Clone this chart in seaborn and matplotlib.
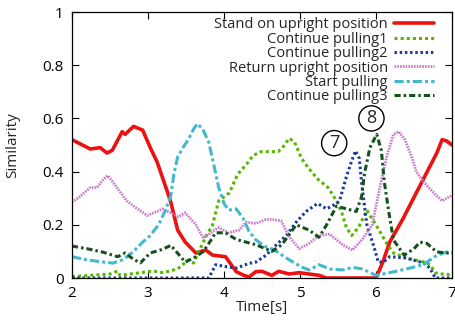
import numpy as np
import pandas as pd
import seaborn as sns
import matplotlib
matplotlib.use("Agg")
import matplotlib.pyplot as plt

# Similarity of each motion phase over time
stand_t = [2.0, 2.24, 2.37, 2.46, 2.53, 2.66, 2.70, 2.81, 2.93, 3.03, 3.12, 3.26, 3.30, 3.39, 3.49,
           3.63, 3.76, 3.85, 4.02, 4.16, 4.26, 4.33, 4.42, 4.5, 4.63, 4.72, 4.86, 4.99, 5.25, 5.35,
           5.6, 6.0, 6.09, 6.18, 6.35, 6.53, 6.71, 6.80, 6.87, 6.93, 7.0]
stand_v = [0.52, 0.485, 0.49, 0.47, 0.48, 0.55, 0.54, 0.57, 0.556, 0.49, 0.436, 0.32, 0.285, 0.18, 0.135,
           0.094, 0.105, 0.086, 0.08, 0.024, 0.01, 0.004, 0.024, 0.025, 0.01, 0.025, 0.015, 0.02, 0.01, 0.0,
           0.0, 0.0, 0.06, 0.135, 0.22, 0.32, 0.42, 0.47, 0.52, 0.515, 0.50]

pull1_t = [2.0, 2.24, 2.5, 2.6, 2.63, 2.9, 3.07, 3.2, 3.39, 3.53, 3.6, 3.76, 3.85, 3.93, 4.07, 4.18,
           4.29, 4.38, 4.49, 4.71, 4.77, 4.86, 4.93, 5.02, 5.12, 5.24, 5.37, 5.48, 5.55, 5.61, 5.68,
           5.77, 5.88, 5.92, 6.0, 6.14, 6.23, 6.4, 6.63, 6.71, 6.78, 6.84, 6.93, 7.0]
pull1_v = [0.005, 0.01, 0.015, 0.026, 0.01, 0.02, 0.026, 0.02, 0.034, 0.068, 0.056, 0.155, 0.2, 0.29, 0.32, 0.39,
           0.425, 0.46, 0.475, 0.475, 0.49, 0.525, 0.51, 0.45, 0.41, 0.37, 0.34, 0.29, 0.245, 0.19, 0.16,
           0.19, 0.255, 0.235, 0.2, 0.13, 0.094, 0.075, 0.06, 0.05, 0.02, 0.015, 0.015, 0.008]

pull2_t = [2.0, 3.8, 3.89, 4.02, 4.16, 4.33, 4.42, 4.55, 4.69, 4.82, 4.95, 5.08, 5.23, 5.35, 5.48,
           5.52, 5.61, 5.68, 5.73, 5.78, 5.81, 5.84, 5.88, 5.97, 6.03, 6.10, 6.18, 6.40, 6.63, 6.71,
           6.78, 7.0]
pull2_v = [0.0, 0.0, 0.05, 0.043, 0.037, 0.055, 0.06, 0.085, 0.125, 0.16, 0.21, 0.25, 0.28, 0.26, 0.28,
           0.29, 0.38, 0.44, 0.478, 0.45, 0.36, 0.29, 0.2, 0.12, 0.06, 0.06, 0.08, 0.075, 0.056, 0.037,
           0.0, 0.0]

ret_t = [2.0, 2.1, 2.24, 2.33, 2.41, 2.47, 2.54, 2.63, 2.72, 2.86, 2.99, 3.12, 3.19, 3.3, 3.4, 3.49,
         3.63, 3.73, 3.85, 3.93, 4.06, 4.2, 4.29, 4.42, 4.55, 4.63, 4.75, 4.86, 4.99, 5.12, 5.25, 5.39,
         5.56, 5.69, 5.82, 5.95, 6.05, 6.14, 6.23, 6.3, 6.38, 6.47, 6.53, 6.63, 6.76, 6.87, 6.96, 7.0]
ret_v = [0.285, 0.305, 0.34, 0.34, 0.37, 0.385, 0.36, 0.325, 0.29, 0.26, 0.235, 0.25, 0.26, 0.245, 0.23, 0.245,
         0.2, 0.15, 0.175, 0.19, 0.17, 0.18, 0.21, 0.205, 0.22, 0.22, 0.215, 0.155, 0.11, 0.13, 0.16, 0.165,
         0.125, 0.105, 0.145, 0.2, 0.34, 0.455, 0.54, 0.55, 0.52, 0.455, 0.4, 0.36, 0.32, 0.29, 0.305, 0.31]

start_t = [2.0, 2.2, 2.41, 2.54, 2.68, 2.81, 2.93, 3.03, 3.14, 3.23, 3.30, 3.34, 3.39, 3.46, 3.53,
           3.60, 3.65, 3.72, 3.80, 3.87, 3.93, 4.0, 4.06, 4.16, 4.25, 4.33, 4.42, 4.53, 4.69, 4.86,
           5.03, 5.12, 5.25, 5.39, 5.56, 5.69, 5.82, 6.0, 6.18, 6.4, 6.62, 6.8, 6.93, 7.0]
start_v = [0.08, 0.068, 0.06, 0.056, 0.07, 0.1, 0.135, 0.16, 0.2, 0.255, 0.31, 0.39, 0.455, 0.49, 0.52,
           0.56, 0.58, 0.56, 0.51, 0.42, 0.34, 0.28, 0.255, 0.26, 0.225, 0.175, 0.143, 0.12, 0.1, 0.068,
           0.04, 0.03, 0.05, 0.034, 0.03, 0.04, 0.034, 0.01, 0.02, 0.034, 0.05, 0.085, 0.098, 0.095]

pull3_t = [2.0, 2.2, 2.41, 2.6, 2.7, 2.81, 2.9, 3.03, 3.16, 3.26, 3.3, 3.49, 3.6, 3.73, 3.8, 3.89,
           4.02, 4.16, 4.42, 4.63, 4.76, 4.95, 5.12, 5.25, 5.35, 5.48, 5.61, 5.74, 5.81, 5.85, 5.92,
           6.01, 6.07, 6.11, 6.17, 6.23, 6.37, 6.5, 6.58, 6.67, 6.8, 6.93, 7.0]
pull3_v = [0.12, 0.11, 0.097, 0.08, 0.094, 0.07, 0.057, 0.094, 0.105, 0.117, 0.123, 0.06, 0.075, 0.1, 0.13, 0.17,
           0.17, 0.145, 0.125, 0.1, 0.125, 0.2, 0.18, 0.153, 0.2, 0.27, 0.26, 0.25, 0.305, 0.395, 0.49,
           0.54, 0.48, 0.36, 0.245, 0.143, 0.086, 0.11, 0.135, 0.13, 0.098, 0.094, 0.094]

x_ticks = [2, 3, 4, 5, 6, 7]
y_ticks = [0, 0.2, 0.4, 0.6, 0.8, 1]
y_tick_labels = ["0", "0.2", "0.4", "0.6", "0.8", "1"]

sns.set_style("ticks")
plt.rcParams["font.family"] = ["Open Sans", "DejaVu Sans"]

fig = plt.figure(figsize=(4.56, 3.24), dpi=100)
ax = fig.add_axes([72 / 456, 1 - 278 / 324, 380 / 456, 266 / 324])

series = [
    ("Stand on upright position", stand_t, stand_v, "#ee1111", "-", 2.6),
    ("Continue pulling1", pull1_t, pull1_v, "#55b800", (0, (1, 1)), 2.2),
    ("Continue pulling2", pull2_t, pull2_v, "#1a3a9c", (0, (0.8, 0.9)), 2.2),
    ("Return upright position", ret_t, ret_v, "#c97ac9", (0, (0.6, 0.4)), 2.0),
    ("Start pulling", start_t, start_v, "#44b8cc", (0, (3, 1, 1, 1)), 2.2),
    ("Continue pulling3", pull3_t, pull3_v, "#13521f", (0, (2, 1, 0.8, 1)), 2.2),
]

for name, t, v, col, ls, lw in series:
    sns.lineplot(x=t, y=v, ax=ax, color=col, linestyle=ls, linewidth=lw,
                 label=name, estimator=None, sort=False)

ax.set_xlim(2, 7)
ax.set_ylim(0, 1)
ax.set_xticks(x_ticks)
ax.set_yticks(y_ticks)
ax.set_yticklabels(y_tick_labels)
ax.tick_params(direction="in", length=5, width=0.8, top=True, right=True,
               labelsize=11, pad=6, colors="black")
ax.tick_params(axis="x", labeltop=False)
ax.tick_params(axis="y", labelright=False)
for sp in ax.spines.values():
    sp.set_color("black")
    sp.set_linewidth(0.9)
    sp.set_visible(True)

ax.set_xlabel("Time[s]", fontsize=11, labelpad=-1)
ax.set_ylabel("Similarity", fontsize=11, labelpad=16)

leg = ax.legend(loc="upper right", bbox_to_anchor=(0.952, 0.98), frameon=False,
                markerfirst=False, fontsize=10.5, handlelength=2.75, handletextpad=0.4,
                labelspacing=-0.04, borderaxespad=0.0, borderpad=0.0)

circ = dict(boxstyle="circle,pad=0.2", fc="white", ec="black", lw=1.0)
ax.text(5.45, 0.507, "7", ha="center", va="center", fontsize=13, bbox=circ)
ax.text(5.94, 0.60, "8", ha="center", va="center", fontsize=13, bbox=circ)

fig.savefig("out.png", dpi=100)
